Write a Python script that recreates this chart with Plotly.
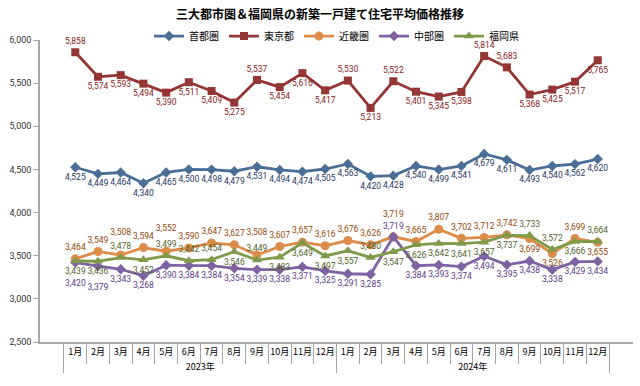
import plotly.graph_objects as go

# ---- data ----
years = ["2023年"] * 12 + ["2024年"] * 12
months = ["1月", "2月", "3月", "4月", "5月", "6月", "7月", "8月", "9月", "10月", "11月", "12月",
          "1月", "2月", "3月", "4月", "5月", "6月", "7月", "8月", "9月", "10月", "11月", "12月"]

shuto = [4525, 4449, 4464, 4340, 4465, 4500, 4498, 4479, 4531, 4494, 4474, 4505,
         4563, 4420, 4428, 4540, 4499, 4541, 4679, 4611, 4493, 4540, 4562, 4620]
tokyo = [5858, 5574, 5593, 5494, 5390, 5511, 5409, 5275, 5537, 5454, 5616, 5417,
         5530, 5213, 5522, 5401, 5345, 5398, 5814, 5683, 5368, 5425, 5517, 5765]
kinki = [3464, 3549, 3508, 3594, 3552, 3590, 3647, 3627, 3508, 3607, 3657, 3616,
         3676, 3626, 3719, 3665, 3807, 3702, 3712, 3742, 3699, 3526, 3699, 3655]
chubu = [3420, 3379, 3343, 3268, 3390, 3384, 3384, 3354, 3339, 3338, 3371, 3325,
         3291, 3285, 3719, 3384, 3393, 3374, 3494, 3395, 3438, 3338, 3429, 3434]
fukuoka = [3439, 3436, 3478, 3452, 3499, 3442, 3454, 3546, 3449, 3483, 3649, 3497,
           3557, 3480, 3547, 3626, 3642, 3641, 3657, 3737, 3733, 3572, 3666, 3664]

series_names = ["首都圏", "東京都", "近畿圏", "中部圏", "福岡県"]
title_text = "三大都市圏＆福岡県の新築一戸建て住宅平均価格推移"

# ---- label placement ----
T, B = "top center", "bottom center"
pos_shuto = [B] * 24
pos_tokyo = [T, B, B, B, B, B, B, B, T, B, B, B,
             T, B, T, B, B, B, T, T, B, B, B, B]
pos_kinki = [T] * 20 + [B, B, T, B]
pos_chubu = [B] * 14 + [T] + [B] * 9
pos_fukuoka = [B, B, T, B, T, T, T, B, T, B, B, B,
               B, T, B, B, B, B, B, B, T, T, B, T]
kinki_raise = [2, 4, 8, 14]   # labels lifted one line to avoid collisions
chubu_lower = [0, 1]          # labels dropped one line to avoid collisions


def labels(vals, raise_idx=(), lower_idx=()):
    out = [f"{v:,}" for v in vals]
    for i in raise_idx:
        out[i] = out[i] + "<br> "
    for i in lower_idx:
        out[i] = " <br>" + out[i]
    return out


styles = [
    (shuto, labels(shuto), pos_shuto, "#4A6E96", "#1F3864", "diamond", 8),
    (tokyo, labels(tokyo), pos_tokyo, "#943634", "#8B1A1A", "square", 8),
    (kinki, labels(kinki, raise_idx=kinki_raise), pos_kinki, "#DD8C4A", "#984807", "circle", 9),
    (chubu, labels(chubu, lower_idx=chubu_lower), pos_chubu, "#7E62A1", "#5B3A8A", "diamond", 8),
    (fukuoka, labels(fukuoka), pos_fukuoka, "#7F9A48", "#4F6228", "triangle-up", 9),
]

fig = go.Figure()
for name, (vals, txt, pos, lc, tc, sym, ms) in zip(series_names, styles):
    fig.add_trace(go.Scatter(
        x=[years, months], y=vals, name=name,
        mode="lines+markers+text",
        line=dict(color=lc, width=2.8),
        marker=dict(color=lc, symbol=sym, size=ms),
        text=txt,
        textposition=pos,
        textfont=dict(family="Roboto", size=8.5, color=tc),
        cliponaxis=False,
        hoverinfo="skip",
    ))

fig.update_layout(
    width=640, height=386,
    margin=dict(l=40, r=7, t=40, b=44),
    paper_bgcolor="white", plot_bgcolor="white",
    title=dict(text=f"<b>{title_text}</b>", x=0.5, xanchor="center", y=0.962, yanchor="middle",
               font=dict(family="Noto Sans CJK JP", size=12, color="#000")),
    legend=dict(orientation="h", x=0.5, xanchor="center", y=1.013, yanchor="middle",
                yref="paper", bgcolor="rgba(0,0,0,0)", itemwidth=30,
                font=dict(family="Noto Sans CJK JP", size=10, color="#000"),
                traceorder="normal"),
    showlegend=True,
)
fig.update_yaxes(range=[2500, 6000], dtick=500, tickformat=",", showgrid=False,
                 showline=True, linecolor="#A6A6A6", linewidth=1.5,
                 ticks="outside", ticklen=5, tickcolor="#A6A6A6",
                 tickfont=dict(family="Roboto", size=9, color="#333"), zeroline=False)
fig.update_xaxes(type="multicategory", showgrid=False, showline=True, linecolor="#A6A6A6",
                 linewidth=1.5, ticks="outside", tickson="boundaries", ticklen=20,
                 tickangle=0,
                 tickcolor="#A6A6A6", showdividers=True, dividercolor="#A6A6A6",
                 dividerwidth=1,
                 tickfont=dict(family="Noto Sans CJK JP", size=9, color="#000"))

fig.write_html("out.html", config={"displayModeBar": False},
               post_script="document.body.style.margin='0';")
